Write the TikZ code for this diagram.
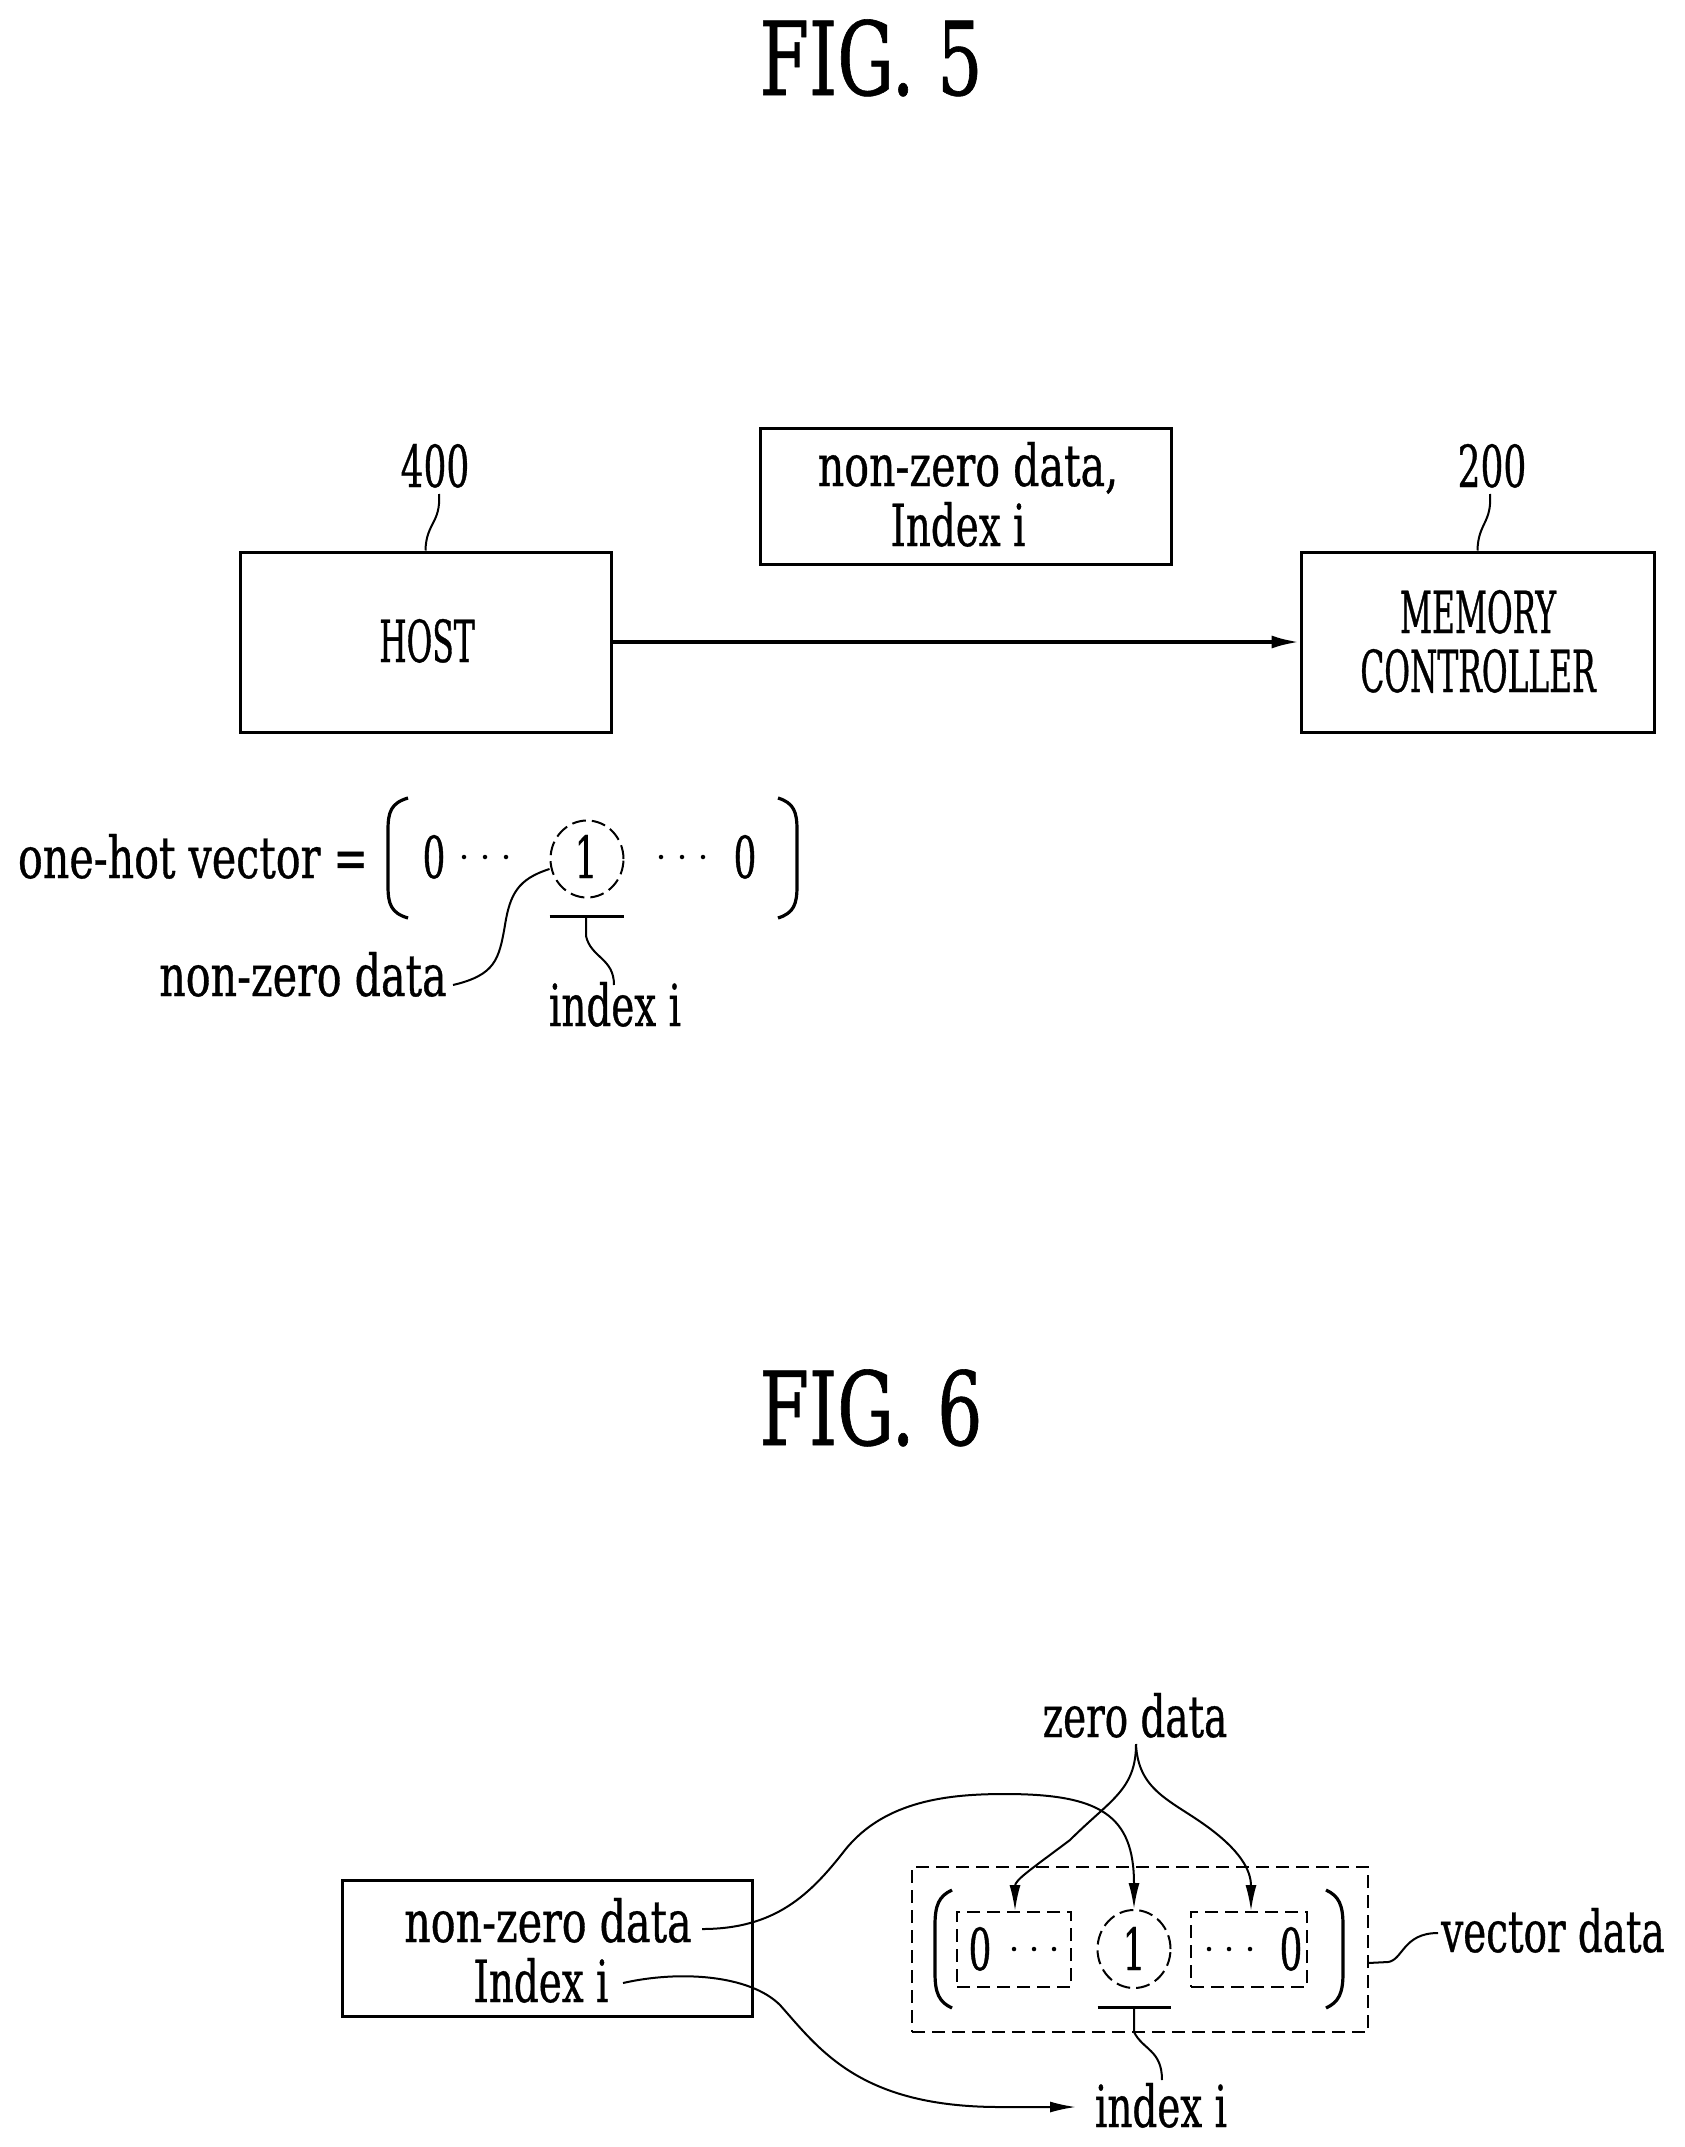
\documentclass[tikz,border=0pt]{standalone}
\usepackage{fontspec}
\usetikzlibrary{arrows.meta,positioning,shapes.geometric}
\newfontfamily\lowfont[FakeStretch=0.67,FakeBold=0.6]{DejaVu Serif}
\newfontfamily\hyfont[FakeStretch=0.71,FakeBold=0.6]{DejaVu Serif}
\newfontfamily\numfont[FakeStretch=0.62,FakeBold=0.6]{DejaVu Serif}
\newfontfamily\capfont[FakeStretch=0.54,FakeBold=0.6]{DejaVu Serif}
\newfontfamily\figfont[FakeStretch=0.70,FakeBold=0.6]{DejaVu Serif}
\tikzset{
  x=1pt,y=-1pt,
  txt/.style={anchor=base,inner sep=0pt,outer sep=0pt,font=\fontsize{58}{60}\selectfont\lowfont},
  hytxt/.style={anchor=base,inner sep=0pt,outer sep=0pt,font=\fontsize{58}{60}\selectfont\hyfont},
  numtxt/.style={anchor=base,inner sep=0pt,outer sep=0pt,font=\fontsize{58}{60}\selectfont\numfont},
  captxt/.style={anchor=base,inner sep=0pt,outer sep=0pt,font=\fontsize{58}{60}\selectfont\capfont},
  figtxt/.style={anchor=base,inner sep=0pt,outer sep=0pt,font=\fontsize{102}{104}\selectfont\figfont},
  box/.style={draw,line width=3pt,inner sep=0pt},
  dbox/.style={draw,line width=2.6pt,dash pattern=on 13pt off 7pt,inner sep=0pt},
  dcirc/.style={draw,ellipse,line width=2pt,dash pattern=on 14pt off 6pt,inner sep=0pt},
  lead/.style={line width=2pt},
  brk/.style={line width=3.2pt},
  tip/.style={-{Latex[length=26pt,width=11pt]}},
  dotstxt/.style={circle,fill,inner sep=0pt,minimum size=4.5pt},
}
\newcommand{\boxat}[5]{\node[box,minimum width=#4-#2,minimum height=#5-#3] (#1) at ({(#2+#4)/2},{(#3+#5)/2}) {};}
\newcommand{\dboxat}[5]{\node[dbox,minimum width=#4-#2,minimum height=#5-#3] (#1) at ({(#2+#4)/2},{(#3+#5)/2}) {};}
\begin{document}
\begin{tikzpicture}
\useasboundingbox (0,0) rectangle (1685,2147);
% FIG. 5
\node[figtxt] (fig5) at (871,95) {FIG. 5};
\boxat{host}{240}{552}{611}{732}
\boxat{msg}{760}{428}{1171}{564}
\boxat{mem}{1301}{552}{1654}{732}
\node[captxt] (hosttxt) at (427,662) {HOST};
\node[captxt] (memtxt) at (1478,633) {MEMORY};
\node[captxt] (ctrltxt) at (1478,692) {CONTROLLER};
\node[hytxt] (msg1) at (968,486) {non-zero data,};
\node[txt] (msg2) at (958,546) {Index i};
\node[numtxt] (n400) at (435,487) {400};
\node[numtxt] (n200) at (1492,487) {200};
\coordinate (l400) at (439,494);
\coordinate (l200) at (1490,494);
\draw[lead] (l400) .. controls (441,523) and (426,523) .. (host.north);
\draw[lead] (l200) .. controls (1492,523) and (1478,523) .. (mem.north);
\draw[line width=3.6pt,-{Latex[length=28pt,width=13pt]}] (host.east) -- (mem.west);
% one-hot vector
\node[hytxt] (hot) at (193,878) {one-hot vector =};
\coordinate (bl1) at (408,798);\coordinate (bl2) at (408,918);
\coordinate (br1) at (778,798);\coordinate (br2) at (778,918);
\draw[brk] (bl1) .. controls (391,803) and (388,812) .. (388,830) -- (388,886) .. controls (388,904) and (391,913) .. (bl2);
\draw[brk] (br1) .. controls (794,803) and (797,812) .. (797,830) -- (797,886) .. controls (797,904) and (794,913) .. (br2);
\node[numtxt] (z1) at (434,878) {0};
\node[numtxt] (c1) at (586,878) {1};
\node[numtxt] (z2) at (745,878) {0};
\node[dotstxt] (d1) at (464,857) {};\node[dotstxt] (d2) at (485,857) {};\node[dotstxt] (d3) at (506,857) {};
\node[dotstxt] (d4) at (661,857) {};\node[dotstxt] (d5) at (682,857) {};\node[dotstxt] (d6) at (703,857) {};
\node[dcirc,minimum width=73pt,minimum height=77pt] (circ1) at (587,859) {};
\node[inner sep=0pt] (bar1a) at (549,916) {};
\node[inner sep=0pt] (bar1b) at (625,916) {};
\draw[line width=3pt] (bar1a) -- (bar1b);
\node[hytxt] (nz1) at (303,996) {non-zero data};
\node[txt] (idx1) at (615,1026) {index i};
\coordinate (nz1l) at (453,985);
\coordinate (idx1l) at (614,985);
\coordinate (bar1m) at (586,916);
\draw[lead] (circ1.west) ++(0,10) .. controls (518,879) and (510,894) .. (505,925) .. controls (499,960) and (495,975) .. (nz1l);
\draw[lead] (bar1m) -- (586,936) .. controls (591,958) and (614,958) .. (idx1l);
% FIG. 6
\node[figtxt] (fig6) at (871,1445) {FIG. 6};
\boxat{src}{342}{1880}{752}{2016}
\node[hytxt] (srca) at (548,1942) {non-zero data};
\node[txt] (srcb) at (541,2002) {Index i};
\dboxat{outer}{912}{1867}{1368}{2032}
\dboxat{in1}{957}{1912}{1071}{1987}
\dboxat{in2}{1191}{1912}{1307}{1987}
\coordinate (bl3) at (952,1890);\coordinate (bl4) at (952,2008);
\coordinate (br3) at (1326,1890);\coordinate (br4) at (1326,2008);
\draw[brk] (bl3) .. controls (939,1896) and (935,1905) .. (935,1925) -- (935,1973) .. controls (935,1993) and (939,2002) .. (bl4);
\draw[brk] (br3) .. controls (1339,1896) and (1343,1905) .. (1343,1925) -- (1343,1973) .. controls (1343,1993) and (1339,2002) .. (br4);
\node[numtxt] (z3) at (980,1970) {0};
\node[numtxt] (c2) at (1134,1970) {1};
\node[numtxt] (z4) at (1291,1970) {0};
\node[dotstxt] (d7) at (1014,1949) {};\node[dotstxt] (d8) at (1034,1949) {};\node[dotstxt] (d9) at (1054,1949) {};
\node[dotstxt] (d10) at (1209,1949) {};\node[dotstxt] (d11) at (1229,1949) {};\node[dotstxt] (d12) at (1250,1949) {};
\node[dcirc,minimum width=73pt,minimum height=78pt] (circ2) at (1134,1949) {};
\node[inner sep=0pt] (bar2a) at (1097,2007) {};
\node[inner sep=0pt] (bar2b) at (1172,2007) {};
\draw[line width=3pt] (bar2a) -- (bar2b);
\node[txt] (zero) at (1135,1737) {zero data};
\node[txt] (vec) at (1553,1952) {vector data};
\node[txt] (idx2) at (1161,2127) {index i};
\coordinate (apex) at (1136,1744);
\coordinate (srcaR) at (702,1929);
\coordinate (srcbR) at (623,1983);
\coordinate (idx2l) at (1076,2107);
\coordinate (bar2m) at (1134,2007);
\coordinate (idx2t) at (1162,2080);
\coordinate (vecL) at (1438,1933);
\coordinate (outerR) at (1368,1963);
\draw[lead,tip] (apex) .. controls (1136,1790) and (1110,1800) .. (1070,1840) .. controls (1030,1870) and (1015,1880) .. (1015,1911);
\draw[lead,tip] (apex) .. controls (1138,1790) and (1170,1800) .. (1205,1825) .. controls (1240,1850) and (1251,1870) .. (1251,1911);
\draw[lead,tip] (srcaR) .. controls (775,1929) and (810,1895) .. (845,1850) .. controls (885,1800) and (950,1794) .. (1005,1794) .. controls (1100,1794) and (1134,1815) .. (circ2.north);
\draw[lead,tip] (srcbR) .. controls (680,1970) and (750,1975) .. (780,2005) .. controls (820,2050) and (860,2107) .. (1000,2107) -- (idx2l);
\draw[lead] (bar2m) -- (1134,2032) .. controls (1143,2050) and (1162,2050) .. (idx2t);
\draw[lead] (outerR) -- (1388,1962) .. controls (1403,1960) and (1403,1933) .. (vecL);
\end{tikzpicture}
\end{document}
